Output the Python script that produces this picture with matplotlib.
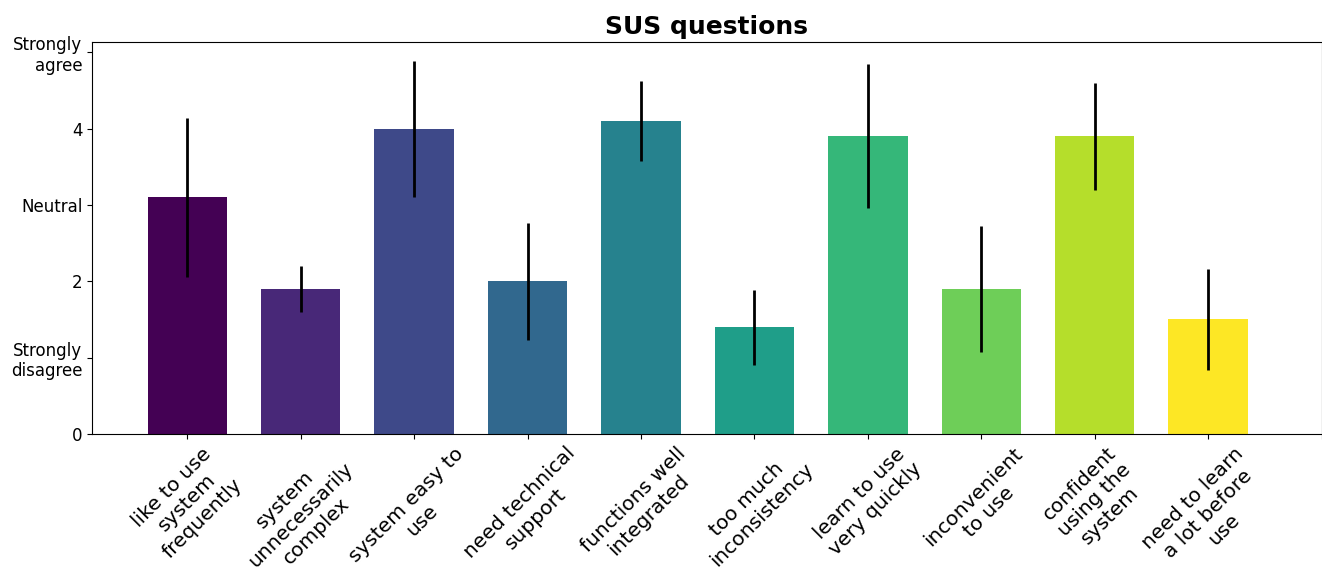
import numpy as np
import matplotlib
matplotlib.use("Agg")
import matplotlib.pyplot as plt

# SUS questionnaire items: mean score and spread per question
questions = [
    "like to use\nsystem\nfrequently",
    "system\nunnecessarily\ncomplex",
    "system easy to\nuse",
    "need technical\nsupport",
    "functions well\nintegrated",
    "too much\ninconsistency",
    "learn to use\nvery quickly",
    "inconvenient\nto use",
    "confident\nusing the\nsystem",
    "need to learn\na lot before\nuse",
]
means = [3.1, 1.9, 4.0, 2.0, 4.1, 1.4, 3.9, 1.9, 3.9, 1.5]
errors = [1.04, 0.30, 0.89, 0.77, 0.53, 0.49, 0.94, 0.83, 0.70, 0.66]

ytick_values = [0, 1, 2, 3, 4, 5]
ytick_labels = ["0", "Strongly\ndisagree", "2", "Neutral", "4", "Strongly\nagree"]

fig = plt.figure(figsize=(13.22, 5.75), dpi=100)
ax = fig.add_axes([92 / 1322, 1 - 434 / 575, (1321.5 - 92) / 1322, (434 - 42) / 575])

positions = np.arange(1, len(questions) + 1)
colors = plt.cm.viridis(np.linspace(0, 1, len(questions)))

ax.bar(positions, means, width=0.7, color=colors)
ax.errorbar(positions, means, yerr=errors, fmt="none", ecolor="black", elinewidth=2, capsize=0)

ax.set_xticks(list(positions) + [len(questions) + 1])
ax.set_xticklabels(questions + [""], rotation=45, fontsize=14.5)
ax.set_xlim(0.16, len(questions) + 1)

ax.set_yticks(ytick_values)
ax.set_yticklabels(ytick_labels, fontsize=12)
ax.set_ylim(0, max(m + e for m, e in zip(means, errors)) * 1.05)

ax.set_title("SUS questions", fontsize=18, fontweight="bold")

fig.savefig("out.png", dpi=100)
